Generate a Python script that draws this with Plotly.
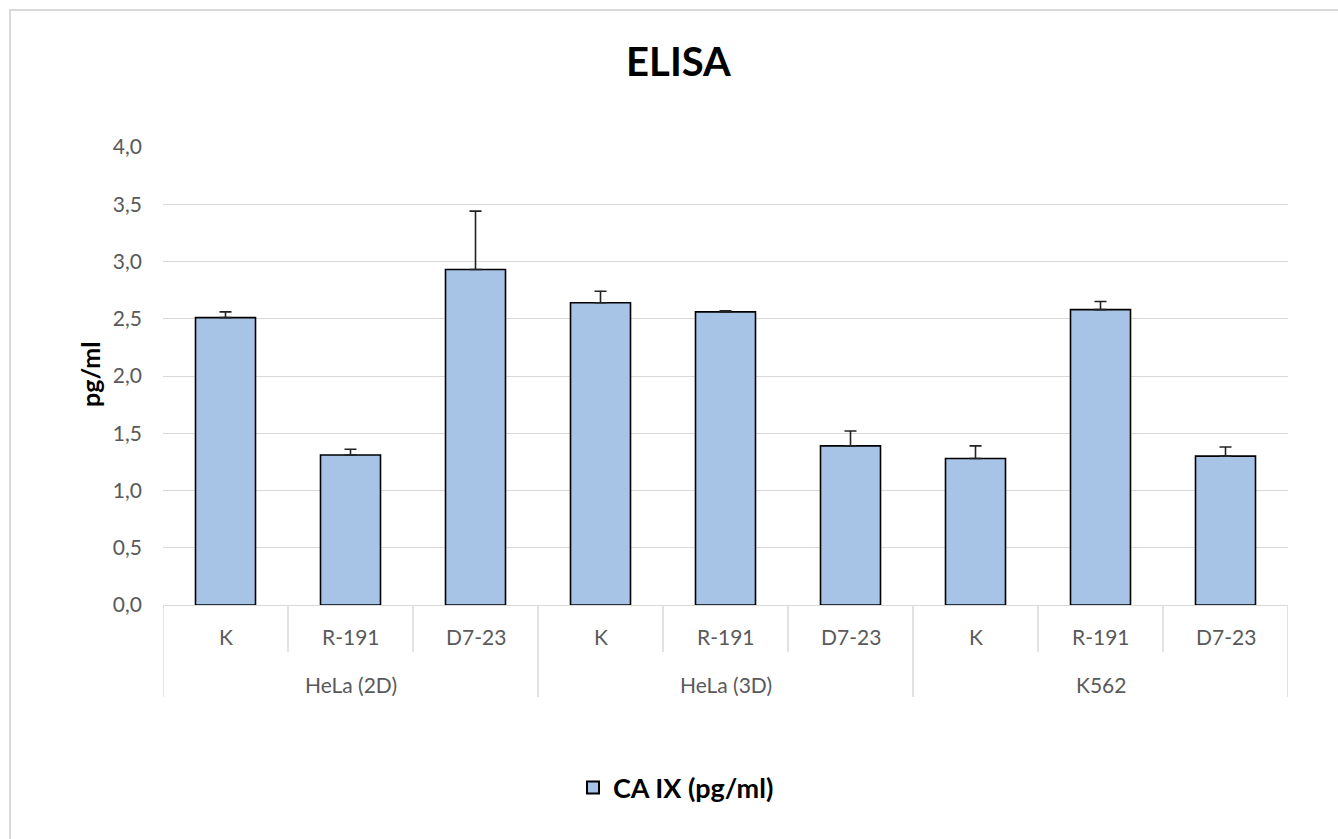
import plotly.graph_objects as go

groups = ["HeLa (2D)"] * 3 + ["HeLa (3D)"] * 3 + ["K562"] * 3
samples = ["K", "R-191", "D7-23"] * 3
values = [2.51, 1.31, 2.93, 2.64, 2.56, 1.39, 1.28, 2.58, 1.30]
errors = [0.05, 0.05, 0.51, 0.10, 0.01, 0.13, 0.11, 0.07, 0.08]
series_name = "CA IX (pg/ml)"
y_ticks = [0, 0.5, 1.0, 1.5, 2.0, 2.5, 3.0, 3.5, 4.0]

W, H = 1338, 839
ml, mr, mt, mb = 163, 50, 147, 234
pw, ph = W - ml - mr, H - mt - mb

font = "Lato, 'Open Sans', sans-serif"
grid = "#d9d9d9"
n = len(samples)
pos = list(range(n))


def py(px_y):
    """pixel y (from top of page) -> paper y"""
    return (mt + ph - px_y) / ph


def px_x(px):
    return (px - ml) / pw


fig = go.Figure()
fig.add_trace(go.Bar(
    x=pos,
    y=values,
    width=0.48,
    name="<b>" + series_name + "</b>",
    marker=dict(color="#a7c4e7", line=dict(color="#000000", width=1.6)),
    error_y=dict(type="data", array=errors, arrayminus=[0] * n,
                 symmetric=False, color="#222222", thickness=1.6, width=6),
    showlegend=True,
))

fig.update_layout(
    width=W, height=H,
    margin=dict(l=ml, r=mr, t=mt, b=mb),
    paper_bgcolor="white", plot_bgcolor="white",
    separators=",.",
    font=dict(family=font, color="#595959", size=21),
    title=dict(text="<b>ELISA</b>", x=678.5 / W, xanchor="center", y=1 - 62 / H,
               yanchor="middle", yref="container", xref="container",
               font=dict(family=font, size=40, color="#000000")),
    legend=dict(orientation="h", x=px_x(676), xanchor="center",
                y=py(788), yanchor="middle",
                font=dict(family=font, size=27, color="#000000"),
                itemsizing="constant", bgcolor="rgba(0,0,0,0)"),
    xaxis=dict(
        range=[-0.5, n - 0.5], showticklabels=False, ticks="",
        showgrid=False, zeroline=False,
        showline=True, linecolor=grid, linewidth=1,
    ),
    yaxis=dict(
        range=[0, 4], tickvals=y_ticks, tickformat=".1f",
        showgrid=True, gridcolor=grid, gridwidth=1,
        zeroline=False, showline=False, ticks="",
        ticklabelstandoff=20,
        tickfont=dict(family=font, size=21, color="#595959"),
    ),
)

# y-axis title
fig.add_annotation(text="<b>pg/ml</b>", xref="paper", yref="paper",
                   x=px_x(90), y=py(375), xanchor="center", yanchor="middle",
                   textangle=-90, showarrow=False,
                   font=dict(family=font, size=25, color="#000000"))

# category labels (inner level)
for i, s in enumerate(samples):
    fig.add_annotation(text=s, xref="x", yref="paper", x=i, y=py(636),
                       xanchor="center", yanchor="middle", showarrow=False,
                       font=dict(family=font, size=21, color="#595959"))

# group labels (outer level)
group_order = []
for g in groups:
    if g not in group_order:
        group_order.append(g)
for g in group_order:
    idx = [i for i, gg in enumerate(groups) if gg == g]
    fig.add_annotation(text=g, xref="x", yref="paper", x=sum(idx) / len(idx),
                       y=py(684), xanchor="center", yanchor="middle", showarrow=False,
                       font=dict(family=font, size=21, color="#595959"))

# divider lines
for b in range(n + 1):
    xb = b - 0.5
    is_group_edge = b == 0 or b == n or groups[b] != groups[b - 1]
    y_end = py(697) if is_group_edge else py(652)
    fig.add_shape(type="line", xref="x", yref="paper", x0=xb, x1=xb,
                  y0=0, y1=y_end, line=dict(color=grid, width=1.5))

# outer chart border (top and left visible)
fig.add_shape(type="rect", xref="paper", yref="paper",
              x0=px_x(10), x1=px_x(W + 10),
              y0=py(H + 10), y1=py(10),
              line=dict(color=grid, width=2), fillcolor="rgba(0,0,0,0)",
              layer="below")

fig.write_html("out.html", config={"displayModeBar": False},
               post_script="document.body.style.margin='0';")
